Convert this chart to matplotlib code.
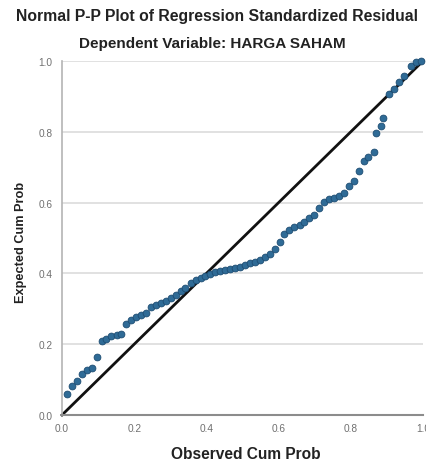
import matplotlib
matplotlib.use("Agg")
import matplotlib.pyplot as plt

plt.rcParams['font.family'] = ['Liberation Sans', 'DejaVu Sans']

observed = [0.014, 0.027, 0.041, 0.055, 0.068, 0.082, 0.096, 0.110, 0.123, 0.137,
            0.151, 0.164, 0.178, 0.192, 0.205, 0.219, 0.233, 0.247, 0.260, 0.274,
            0.288, 0.301, 0.315, 0.329, 0.342, 0.356, 0.370, 0.384, 0.397, 0.411,
            0.425, 0.438, 0.452, 0.466, 0.479, 0.493, 0.507, 0.521, 0.534, 0.548,
            0.562, 0.575, 0.589, 0.603, 0.616, 0.630, 0.644, 0.658, 0.671, 0.685,
            0.699, 0.712, 0.726, 0.740, 0.753, 0.767, 0.781, 0.795, 0.808, 0.822,
            0.836, 0.849, 0.863, 0.870, 0.883, 0.890, 0.905, 0.920, 0.933, 0.947,
            0.967, 0.980, 0.994]
expected = [0.058, 0.082, 0.097, 0.115, 0.127, 0.134, 0.165, 0.210, 0.216, 0.222,
            0.225, 0.228, 0.258, 0.268, 0.276, 0.282, 0.288, 0.305, 0.312, 0.317,
            0.322, 0.330, 0.339, 0.350, 0.360, 0.372, 0.380, 0.388, 0.394, 0.398,
            0.403, 0.407, 0.410, 0.412, 0.415, 0.418, 0.423, 0.428, 0.432, 0.437,
            0.447, 0.455, 0.468, 0.490, 0.512, 0.522, 0.530, 0.538, 0.546, 0.556,
            0.566, 0.585, 0.602, 0.609, 0.614, 0.619, 0.628, 0.648, 0.662, 0.690,
            0.718, 0.728, 0.743, 0.797, 0.817, 0.840, 0.907, 0.920, 0.940, 0.958,
            0.987, 0.998, 1.000]

ticks = [0.0, 0.2, 0.4, 0.6, 0.8, 1.0]
xtick_labels = ['0.0', '0.2', '0.4', '0.6', '0.8', '1.0']
ytick_labels = ['0.0', '0.2', '0.4', '0.6', '0.8', '1.0']

title1 = "Normal P-P Plot of Regression Standardized Residual"
title2 = "Dependent Variable: HARGA SAHAM"
xlabel = "Observed Cum Prob"
ylabel = "Expected Cum Prob"

W, H = 426, 464
fig = plt.figure(figsize=(W/100, H/100), dpi=100)
ax = fig.add_axes([62/W, 48/H, 361/W, 354/H])

ax.set_xlim(0, 1)
ax.set_ylim(0, 1)

for t in ticks[1:]:
    ax.axhline(t, color='#dedede', linewidth=1.3, zorder=0)

ax.plot([0, 1], [0, 1], color='#111111', linewidth=2.0, zorder=2, clip_on=False)
ax.scatter(observed, expected, s=24, c='#2f6b96', edgecolors='#1d4c72',
           linewidths=0.6, zorder=3, clip_on=False)

for s in ['top', 'right']:
    ax.spines[s].set_visible(False)
ax.spines['left'].set_color('#b4b4b4')
ax.spines['bottom'].set_color('#8c8c8c')
ax.spines['left'].set_linewidth(1.2)
ax.spines['bottom'].set_linewidth(1.5)

ax.set_xticks(ticks)
ax.set_xticklabels(xtick_labels)
ax.set_yticks(ticks)
ax.set_yticklabels(ytick_labels)
ax.tick_params(length=0, labelsize=7.3, colors='#707070')
ax.tick_params(axis='x', pad=6)
ax.tick_params(axis='y', pad=7)

fig.text(246/W, 1 - 455/H, xlabel, ha='center', va='center',
         fontsize=11.2, fontweight='bold', color='#222222')
fig.text(21/W, 1 - 242/H, ylabel, ha='center', va='center', rotation=90,
         fontsize=9.2, fontweight='bold', color='#222222')

fig.text(217/W, 1 - 17/H, title1, ha='center', va='center', fontsize=11.3,
         fontweight='bold', color='#222222')
fig.text(212/W, 1 - 44/H, title2, ha='center', va='center', fontsize=11,
         fontweight='bold', color='#222222')

fig.savefig("out.png", dpi=100)
